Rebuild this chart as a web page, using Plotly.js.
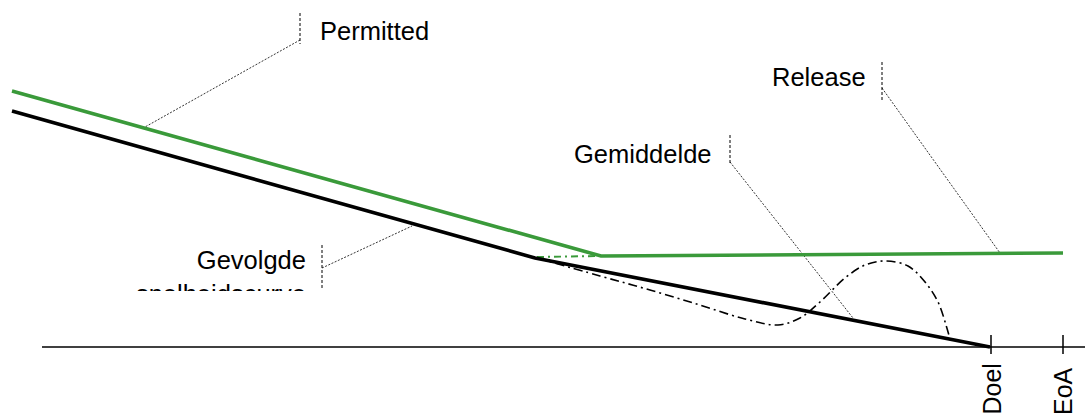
<!DOCTYPE html>
<html>
<head>
<meta charset="utf-8">
<script src="https://cdn.plot.ly/plotly-3.0.1.min.js"></script>
<style>html,body{margin:0;padding:0;background:#fff;}#chart{width:1085px;height:417px;}</style>
</head>
<body>
<div id="chart"></div>
<script>
// Curves (diagram units: horizontal position, vertical position measured downward)
const permittedX = [12, 601, 1063];
const permittedY = [91, 256, 253];
const permittedDashX = [537, 601];
const permittedDashY = [257, 256];
const followedX = [12, 535, 990];
const followedY = [111, 258, 347];
const averageX = [537, 600, 650, 700, 745, 778, 800, 820, 845, 865, 885, 908, 925, 938, 946, 951];
const averageY = [258, 276, 290, 305, 319, 325, 318, 302, 278, 265, 261, 266, 282, 302, 325, 343];
const baseX = [42, 1085];
const baseY = [347, 347];
const tickPos = [991, 1063];
const tickLabels = ['Doel', 'EoA'];
const tickTop = 335, tickBottom = 354;

// Labels and leader lines
const labels = ['Permitted', 'Release', 'Gemiddelde'];
const labelX = [318, 770, 572];
const labelY = [31, 77, 154];
const leaderVX = [300, 882, 730, 322];
const leaderVTop = [13, 62, 135, 245];
const leaderVBottom = [44, 101, 165, 290];
const leaderDX0 = [300, 882, 730, 322];
const leaderDY0 = [40, 88, 162, 268];
const leaderDX1 = [145, 1000, 853, 412];
const leaderDY1 = [127, 253, 318, 226];
const followedLabel = ['Gevolgde', 'snelheidscurve'];
const followedLabelX = [306, 306];
const followedLabelY = [263, 297];

const green = '#3a9a3a';
const FONT = 'Liberation Sans, Arial, sans-serif';
const traces = [];
function line(x, y, color, width, dash, shape) {
  traces.push({x: x, y: y, type: 'scatter', mode: 'lines', hoverinfo: 'skip', showlegend: false,
    line: {color: color, width: width, dash: dash || 'solid', shape: shape || 'linear'}});
}
line(baseX, baseY, '#000', 1.5);
tickPos.forEach(p => line([p, p], [tickTop, tickBottom], '#000', 1.5));
for (let i = 0; i < leaderVX.length; i++) {
  line([leaderVX[i], leaderVX[i]], [leaderVTop[i], leaderVBottom[i]], '#000', 1, '3px,2px');
  line([leaderDX0[i], leaderDX1[i]], [leaderDY0[i], leaderDY1[i]], '#000', 0.8, '2px,1.5px');
}
line(permittedDashX, permittedDashY, green, 2, '7px,4px,2px,4px');
line(averageX, averageY, '#000', 1.6, '9px,4px,2px,4px', 'spline');
line(followedX, followedY, '#000', 3.6);
line(permittedX, permittedY, green, 3.6);
traces.push({x: followedLabelX, y: followedLabelY, text: followedLabel, type: 'scatter', mode: 'text',
  textposition: 'middle left', hoverinfo: 'skip', showlegend: false,
  textfont: {family: FONT, size: 25.5, color: '#000'}});

const annotations = labels.map((t, i) => ({x: labelX[i], y: labelY[i], text: t, showarrow: false,
  xanchor: 'left', yanchor: 'middle', font: {family: FONT, size: 25.5, color: '#000'}}));
tickPos.forEach((p, i) => annotations.push({x: p, y: 417, text: tickLabels[i], showarrow: false, textangle: -90,
  xanchor: 'center', yanchor: 'bottom', font: {family: FONT, size: 25, color: '#000'}}));

const layout = {
  width: 1085, height: 417, margin: {l: 0, r: 0, t: 0, b: 0},
  paper_bgcolor: '#fff', plot_bgcolor: '#fff',
  xaxis: {range: [0, 1085], visible: false, fixedrange: true},
  yaxis: {range: [417, 0], visible: false, fixedrange: true},
  annotations: annotations,
  shapes: [{type: 'rect', xref: 'x', yref: 'y', x0: 120, x1: 318, y0: 291, y1: 335,
    fillcolor: '#fff', line: {width: 0}, layer: 'above'}]
};
Plotly.newPlot('chart', traces, layout, {staticPlot: true, displayModeBar: false});
</script>
</body>
</html>
